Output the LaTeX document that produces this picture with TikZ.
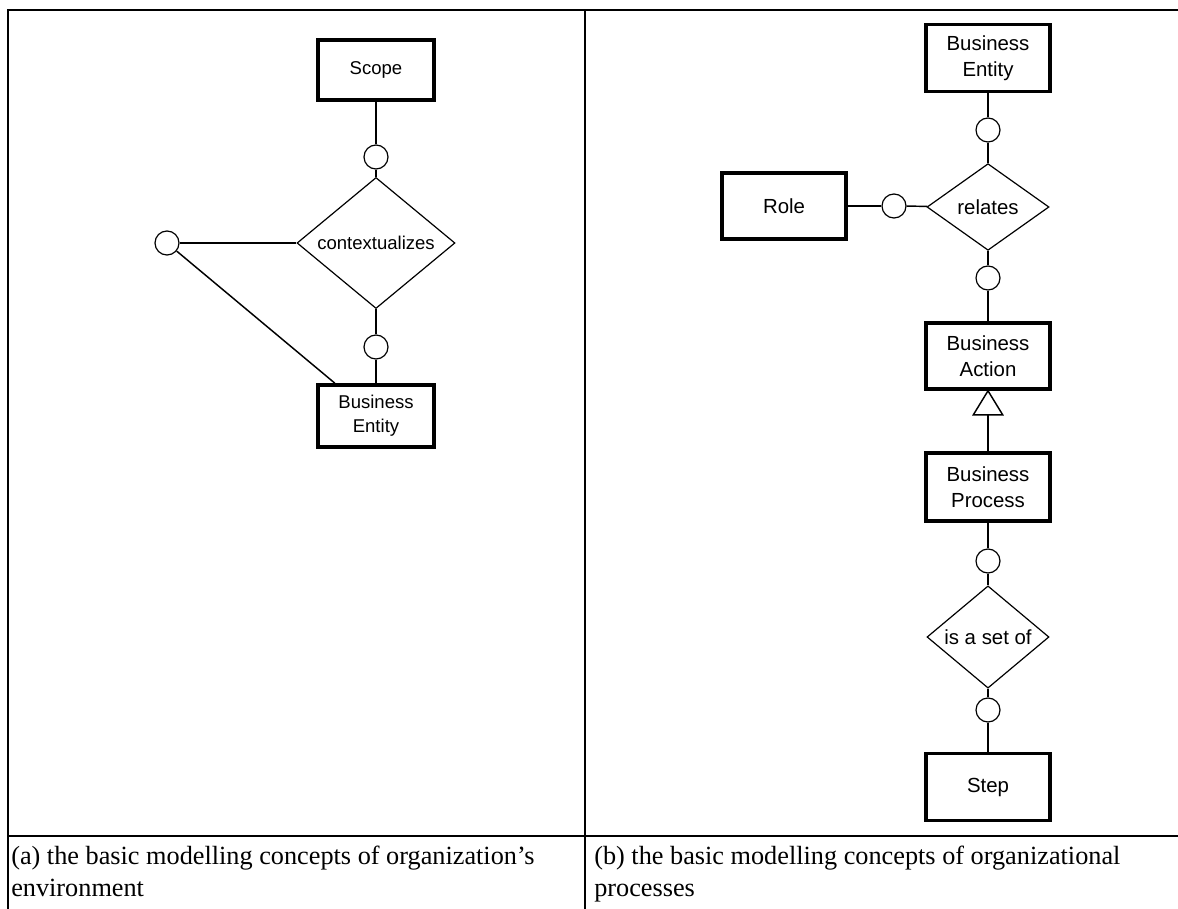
\documentclass[tikz,border=0pt]{standalone}
\usepackage{fontspec}
\setmainfont{Liberation Serif}
\newfontfamily\arialfont{Liberation Sans}
\usetikzlibrary{shapes.geometric}
\tikzset{
  entity/.style={draw=black, line width=2.7pt, fill=white, align=center, inner sep=0pt},
  relship/.style={draw=black, diamond, line width=0.9pt, fill=white, inner sep=0pt, align=center},
  joint/.style={draw=black, circle, line width=0.9pt, fill=white, minimum size=18pt, inner sep=0pt},
  conn/.style={black, line width=1.1pt},
  frame/.style={black, line width=1.8pt}
}
\begin{document}
\begin{tikzpicture}[x=0.75pt,y=-0.75pt]
    \useasboundingbox (0,0) rectangle (1178,909);
    \draw [frame] (8,836) -- (1178,836);
    \draw [frame] (8,909) -- (8,10) -- (1178,10);
    \draw [frame] (585,10) -- (585,909);
    \begin{scope}[every node/.append style={font=\arialfont\fontsize{13.9}{18}\selectfont}]
    \node [entity, minimum width=87pt, minimum height=45pt] (scope) at (376,70) {Scope};
    \node [joint] (c6) at (376,157) {};
    \node [relship, minimum width=118.5pt, minimum height=78pt] (ctx) at (376,243) {contextualizes};
    \node [joint] (c7) at (376,347) {};
    \node [entity, minimum width=87pt, minimum height=46.5pt] (beA) at (376,416) {Business\\Entity};
    \node [joint] (c8) at (167,243) {};
    \end{scope}
    \draw [conn] (scope) -- (c6);
    \draw [conn] (c6) -- (ctx);
    \draw [conn] (ctx) -- (c7);
    \draw [conn] (c7) -- (beA);
    \draw [conn] (c8) -- (ctx);
    \draw [conn] (c8) -- ([xshift=14pt]beA.north west);
    \begin{scope}[every node/.append style={font=\arialfont\fontsize{15.3}{19.5}\selectfont}]
    \node [entity, minimum width=93pt, minimum height=50pt] (beB) at (988,58) {Business\\Entity};
    \node [joint] (c1) at (988,130) {};
    \node [relship, minimum width=91.5pt, minimum height=65pt] (rel) at (988,207) {relates};
    \node [entity, minimum width=93pt, minimum height=49.5pt] (role) at (784,206) {Role};
    \node [joint] (c2) at (894,206) {};
    \node [joint] (c3) at (988,278) {};
    \node [entity, minimum width=93pt, minimum height=49.5pt] (ba) at (988,356) {Business\\Action};
    \node [entity, minimum width=93pt, minimum height=51pt] (bp) at (988,487) {Business\\Process};
    \node [joint] (c4) at (988,561) {};
    \node [relship, minimum width=91.5pt, minimum height=66pt] (set) at (988,637) {is a set of};
    \node [joint] (c5) at (988,710) {};
    \node [entity, minimum width=93pt, minimum height=50pt] (step) at (988,787) {Step};
    \end{scope}
    \draw [conn] (beB) -- (c1);
    \draw [conn] (c1) -- (rel);
    \draw [conn] (role) -- (c2);
    \draw [conn] (c2) -- (rel);
    \draw [conn] (rel) -- (c3);
    \draw [conn] (c3) -- (ba);
    \coordinate (tri) at ([yshift=-18pt]ba.south);
    \draw [conn] (tri) -- (bp);
    \draw [conn, fill=white] (ba.south) -- ([xshift=-11pt]tri) -- ([xshift=11pt]tri) -- cycle;
    \draw [conn] (bp) -- (c4);
    \draw [conn] (c4) -- (set);
    \draw [conn] (set) -- (c5);
    \draw [conn] (c5) -- (step);
    \begin{scope}[every node/.append style={font=\fontsize{19.7}{24}\selectfont, align=left, anchor=north west, inner sep=0pt}]
    \node (capA) at (11,846) {(a) the basic modelling concepts of organization’s\\environment};
    \node (capB) at (594,846) {(b) the basic modelling concepts of organizational\\processes};
    \end{scope}
\end{tikzpicture}
\end{document}
